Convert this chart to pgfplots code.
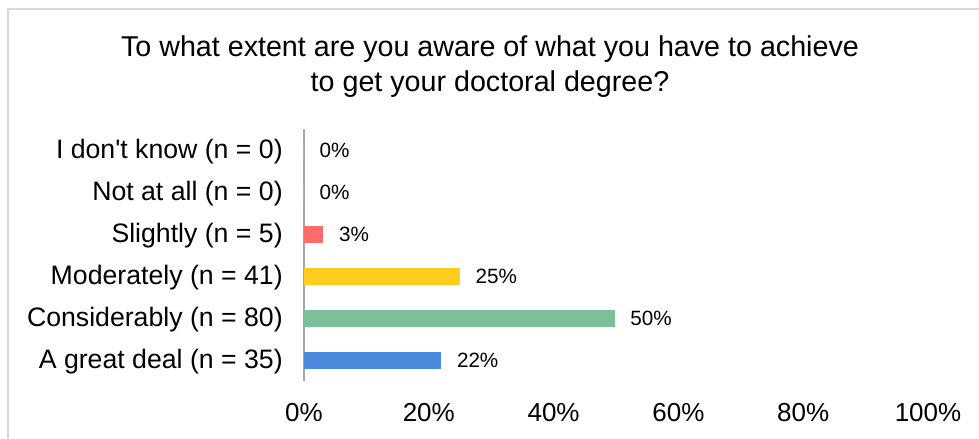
\documentclass[border=0pt]{standalone}
\usepackage{fontspec}
\setmainfont{Liberation Sans}
\usepackage{pgfplots}
\pgfplotsset{compat=1.18}

\definecolor{barred}{HTML}{FF6B6B}
\definecolor{baryellow}{HTML}{FFCD1E}
\definecolor{bargreen}{HTML}{7CBF99}
\definecolor{barblue}{HTML}{4A89DB}
\definecolor{axisgray}{HTML}{A6A6A6}
\definecolor{framegray}{HTML}{D9D9D9}

\begin{document}
\begin{tikzpicture}
\begin{scope}[x=0.75pt, y=-0.75pt]
\useasboundingbox (0,0) rectangle (979,439);
% outer frame (right and bottom edges fall outside the picture)
\draw[framegray, line width=1.5pt] (8,445) -- (8,8.5) -- (985,8.5);
% title
\node[font=\fontsize{21.5}{26}\selectfont] at (490,49) {To what extent are you aware of what you have to achieve};
\node[font=\fontsize{21.5}{26}\selectfont] at (490,84) {to get your doctoral degree?};
\end{scope}

\begin{axis}[
    at={(228pt,-285.75pt)}, anchor=south west,
    scale only axis,
    width=468pt, height=189pt,
    xbar, bar width=12.75pt, bar shift=0pt,
    xmin=0, xmax=100,
    ymin=-0.5, ymax=5.5,
    xtick={0,20,40,60,80,100},
    xticklabel={\pgfmathprintnumber{\tick}\%},
    ytick={0,1,2,3,4,5},
    yticklabels={A great deal (n = 35), Considerably (n = 80), Moderately (n = 41),
                 Slightly (n = 5), Not at all (n = 0), I don\textquotesingle t know (n = 0)},
    /pgf/number format/assume math mode=true,
    tick style={draw=none},
    xticklabel style={font=\fontsize{19.5}{24}\selectfont, inner sep=0pt, anchor=north},
    xticklabel shift=16.5pt,
    yticklabel style={font=\fontsize{20}{24}\selectfont, inner sep=0pt, anchor=east, yshift=-1.5pt},
    yticklabel shift=11.5pt,
    axis lines*=left,
    separate axis lines,
    x axis line style={draw=none},
    y axis line style={draw=axisgray, line width=1.5pt},
    nodes near coords={\pgfmathprintnumber[fixed,precision=0]{\pgfplotspointmeta}\%},
    nodes near coords align={horizontal},
    every node near coord/.append style={font=\fontsize{15.5}{18}\selectfont, inner sep=0pt, anchor=west, xshift=11.6pt, text=black},
    clip=false,
]
\addplot[fill=barblue, draw=none] coordinates {(22.0,0)};
\addplot[fill=bargreen, draw=none] coordinates {(49.8,1)};
\addplot[fill=baryellow, draw=none] coordinates {(25.0,2)};
\addplot[fill=barred, draw=none] coordinates {(3.1,3)};
\addplot[fill=white, draw=none] coordinates {(0,4) (0,5)};
\end{axis}
\end{tikzpicture}
\end{document}
